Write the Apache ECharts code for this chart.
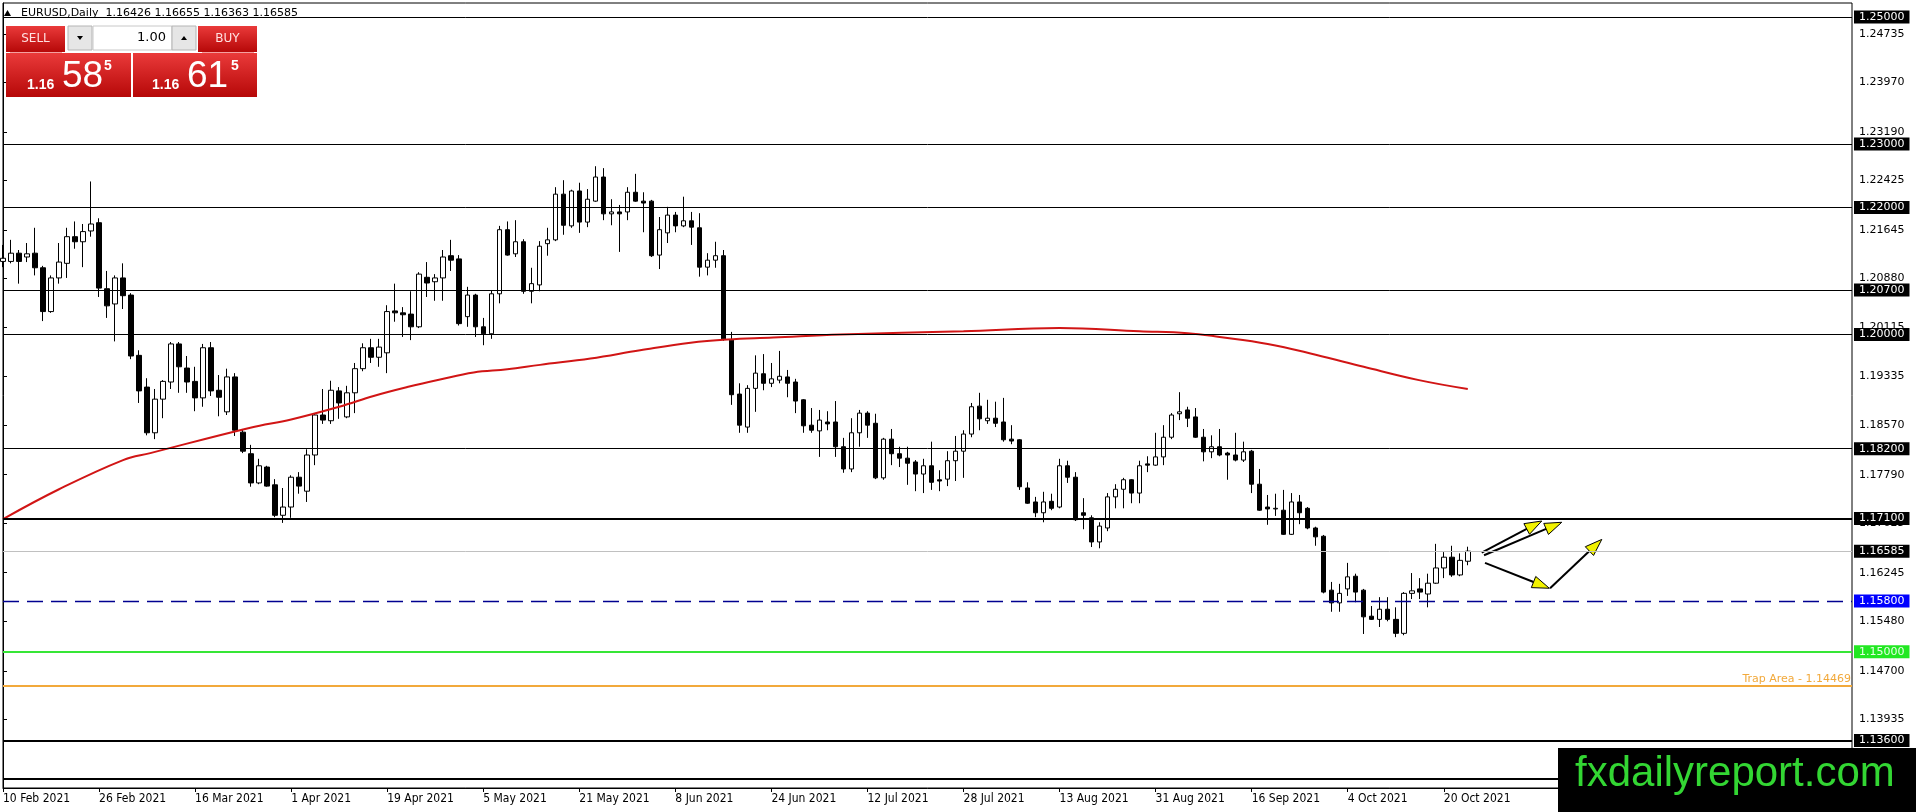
<!DOCTYPE html>
<html>
<head>
<meta charset="utf-8">
<title>EURUSD Daily</title>
<script src="https://cdn.jsdelivr.net/npm/echarts@6/dist/echarts.min.js"></script>
<style>
  html, body { margin: 0; padding: 0; background: #fff; }
  #chart { width: 1916px; height: 812px; }
</style>
</head>
<body>
<div id="chart"></div>
<script>
// daily bars, 10 Feb 2021 .. 25 Oct 2021
const opens = [
  1.2115, 1.2115, 1.2128, 1.2122, 1.2128, 1.2105, 1.2036, 1.2089, 1.2112, 1.2154,
  1.2146, 1.2163, 1.2176, 1.2072, 1.2048, 1.2089, 1.2062, 1.1967, 1.1917, 1.1845,
  1.1898, 1.1925, 1.1985, 1.1947, 1.1926, 1.1900, 1.1979, 1.1912, 1.1878, 1.1933,
  1.1846, 1.1812, 1.1766, 1.1791, 1.1763, 1.1715, 1.1728, 1.1775, 1.1753, 1.1810,
  1.1873, 1.1864, 1.1911, 1.1870, 1.1908, 1.1946, 1.1979, 1.1964, 1.1971, 1.2037,
  1.2034, 1.2032, 1.2012, 1.2090, 1.2083, 1.2089, 1.2124, 1.2119, 1.2028, 1.2062,
  1.2012, 1.2001, 1.2064, 1.2165, 1.2127, 1.2146, 1.2068, 1.2078, 1.2143, 1.2149,
  1.2221, 1.2171, 1.2226, 1.2177, 1.2210, 1.2248, 1.2190, 1.2193, 1.2193, 1.2224,
  1.2210, 1.2210, 1.2125, 1.2160, 1.2188, 1.2171, 1.2179, 1.2168, 1.2106, 1.2117,
  1.2124, 1.1991, 1.1906, 1.1854, 1.1915, 1.1938, 1.1923, 1.1928, 1.1933, 1.1925,
  1.1897, 1.1857, 1.1848, 1.1862, 1.1862, 1.1823, 1.1788, 1.1845, 1.1876, 1.1860,
  1.1774, 1.1835, 1.1812, 1.1805, 1.1799, 1.1780, 1.1793, 1.1771, 1.1772, 1.1801,
  1.1816, 1.1843, 1.1887, 1.1864, 1.1868, 1.1862, 1.1835, 1.1834, 1.1758, 1.1736,
  1.1719, 1.1737, 1.1728, 1.1793, 1.1775, 1.1719, 1.1711, 1.1673, 1.1695, 1.1744,
  1.1756, 1.1771, 1.1750, 1.1796, 1.1794, 1.1807, 1.1838, 1.1875, 1.1881, 1.1870,
  1.1838, 1.1815, 1.1823, 1.1813, 1.1810, 1.1802, 1.1816, 1.1764, 1.1728, 1.1725,
  1.1723, 1.1685, 1.1736, 1.1726, 1.1695, 1.1682, 1.1597, 1.1577, 1.1599, 1.1619,
  1.1597, 1.1556, 1.1551, 1.1567, 1.1551, 1.1529, 1.1592, 1.1599, 1.1591, 1.1608,
  1.1632, 1.1649, 1.1621, 1.16426
];
const highs = [
  1.2141, 1.2149, 1.2133, 1.2144, 1.2168, 1.2108, 1.2093, 1.2144, 1.2168, 1.2178,
  1.2174, 1.2241, 1.2183, 1.2100, 1.2093, 1.2112, 1.2065, 1.1975, 1.1931, 1.1914,
  1.1928, 1.1988, 1.1988, 1.1966, 1.1949, 1.1985, 1.1988, 1.1936, 1.1946, 1.1939,
  1.1851, 1.1826, 1.1804, 1.1793, 1.1772, 1.1758, 1.1778, 1.1783, 1.1819, 1.1876,
  1.1914, 1.1927, 1.1917, 1.1919, 1.1955, 1.1986, 1.1993, 1.1993, 1.2046, 1.2080,
  1.2043, 1.2068, 1.2098, 1.2114, 1.2095, 1.2133, 1.2149, 1.2125, 1.2075, 1.2064,
  1.2026, 1.2070, 1.2171, 1.2178, 1.2180, 1.2150, 1.2105, 1.2147, 1.2168, 1.2232,
  1.2243, 1.2228, 1.2239, 1.2229, 1.2265, 1.2262, 1.2213, 1.2204, 1.2232, 1.2253,
  1.2224, 1.2212, 1.2185, 1.2201, 1.2193, 1.2217, 1.2193, 1.2191, 1.2128, 1.2146,
  1.2133, 1.2004, 1.1923, 1.1920, 1.1967, 1.1969, 1.1955, 1.1974, 1.1944, 1.1930,
  1.1898, 1.1884, 1.1881, 1.1879, 1.1895, 1.1837, 1.1868, 1.1881, 1.1879, 1.1875,
  1.1837, 1.1851, 1.1823, 1.1823, 1.1802, 1.1804, 1.1831, 1.1786, 1.1816, 1.1840,
  1.1849, 1.1892, 1.1908, 1.1897, 1.1894, 1.1900, 1.1857, 1.1835, 1.1767, 1.1744,
  1.1752, 1.1749, 1.1804, 1.1801, 1.1783, 1.1742, 1.1715, 1.1704, 1.1750, 1.1764,
  1.1774, 1.1772, 1.1801, 1.1808, 1.1845, 1.1857, 1.1876, 1.1909, 1.1886, 1.1884,
  1.1851, 1.1841, 1.1851, 1.1815, 1.1845, 1.1831, 1.1818, 1.1788, 1.1747, 1.1749,
  1.1755, 1.1750, 1.1747, 1.1728, 1.1697, 1.1684, 1.1610, 1.1607, 1.1640, 1.1623,
  1.1599, 1.1572, 1.1586, 1.1586, 1.1570, 1.1594, 1.1624, 1.1616, 1.1623, 1.1670,
  1.1657, 1.1667, 1.1655, 1.16655
];
const lows = [
  1.2106, 1.2112, 1.2080, 1.2114, 1.2093, 1.2021, 1.2034, 1.2080, 1.2089, 1.2135,
  1.2106, 1.2154, 1.2059, 1.2026, 1.1989, 1.2040, 1.1961, 1.1892, 1.1841, 1.1835,
  1.1868, 1.1914, 1.1908, 1.1908, 1.1879, 1.1886, 1.1903, 1.1871, 1.1873, 1.1840,
  1.1813, 1.1760, 1.1764, 1.1760, 1.1712, 1.1703, 1.1711, 1.1749, 1.1736, 1.1794,
  1.1859, 1.1859, 1.1867, 1.1868, 1.1876, 1.1942, 1.1955, 1.1949, 1.1939, 1.2020,
  1.1996, 1.1991, 1.2010, 1.2059, 1.2053, 1.2053, 1.2100, 1.2014, 1.2012, 1.1996,
  1.1983, 1.1993, 1.2049, 1.2124, 1.2122, 1.2064, 1.2049, 1.2068, 1.2124, 1.2147,
  1.2157, 1.2168, 1.2160, 1.2169, 1.2209, 1.2180, 1.2172, 1.2130, 1.2180, 1.2209,
  1.2161, 1.2122, 1.2103, 1.2144, 1.2161, 1.2169, 1.2141, 1.2091, 1.2093, 1.2105,
  1.1990, 1.1889, 1.1845, 1.1845, 1.1878, 1.1912, 1.1917, 1.1923, 1.1901, 1.1876,
  1.1845, 1.1845, 1.1807, 1.1849, 1.1807, 1.1782, 1.1783, 1.1823, 1.1837, 1.1772,
  1.1771, 1.1794, 1.1791, 1.1763, 1.1753, 1.1750, 1.1755, 1.1753, 1.1761, 1.1769,
  1.1774, 1.1838, 1.1849, 1.1859, 1.1854, 1.1831, 1.1827, 1.1755, 1.1733, 1.1712,
  1.1704, 1.1723, 1.1726, 1.1766, 1.1706, 1.1693, 1.1665, 1.1663, 1.1690, 1.1726,
  1.1726, 1.1734, 1.1734, 1.1783, 1.1793, 1.1794, 1.1835, 1.1865, 1.1854, 1.1837,
  1.1800, 1.1805, 1.1808, 1.1771, 1.1800, 1.1799, 1.1750, 1.1722, 1.1700, 1.1714,
  1.1684, 1.1684, 1.1701, 1.1693, 1.1667, 1.1592, 1.1563, 1.1563, 1.1588, 1.1578,
  1.1528, 1.1550, 1.1539, 1.1548, 1.1523, 1.1526, 1.1583, 1.1583, 1.1570, 1.1607,
  1.1616, 1.1618, 1.1619, 1.16363
];
const closes = [
  1.2120, 1.2128, 1.2115, 1.2127, 1.2105, 1.2036, 1.2089, 1.2114, 1.2154, 1.2146,
  1.2162, 1.2174, 1.2073, 1.2045, 1.2089, 1.2061, 1.1966, 1.1911, 1.1845, 1.1898,
  1.1926, 1.1985, 1.1949, 1.1925, 1.1900, 1.1979, 1.1911, 1.1901, 1.1933, 1.1849,
  1.1816, 1.1766, 1.1793, 1.1761, 1.1715, 1.1728, 1.1775, 1.1761, 1.1810, 1.1873,
  1.1865, 1.1912, 1.1892, 1.1908, 1.1946, 1.1979, 1.1964, 1.1980, 1.2036, 1.2034,
  1.2031, 1.2012, 1.2095, 1.2081, 1.2089, 1.2122, 1.2117, 1.2017, 1.2062, 1.2012,
  1.2001, 1.2064, 1.2165, 1.2125, 1.2146, 1.2068, 1.2080, 1.2139, 1.2149, 1.2221,
  1.2172, 1.2226, 1.2177, 1.2213, 1.2248, 1.2190, 1.2193, 1.2190, 1.2224, 1.2210,
  1.2207, 1.2124, 1.2165, 1.2188, 1.2171, 1.2179, 1.2169, 1.2106, 1.2117, 1.2124,
  1.1993, 1.1905, 1.1857, 1.1915, 1.1939, 1.1923, 1.1930, 1.1934, 1.1923, 1.1895,
  1.1856, 1.1849, 1.1865, 1.1859, 1.1823, 1.1788, 1.1845, 1.1876, 1.1857, 1.1774,
  1.1835, 1.1812, 1.1805, 1.1797, 1.1780, 1.1793, 1.1767, 1.1769, 1.1801, 1.1816,
  1.1843, 1.1886, 1.1867, 1.1868, 1.1860, 1.1834, 1.1832, 1.1760, 1.1734, 1.1719,
  1.1736, 1.1726, 1.1793, 1.1775, 1.1708, 1.1715, 1.1673, 1.1698, 1.1744, 1.1756,
  1.1771, 1.1750, 1.1793, 1.1794, 1.1807, 1.1838, 1.1873, 1.1878, 1.1868, 1.1838,
  1.1815, 1.1823, 1.1810, 1.1810, 1.1802, 1.1815, 1.1764, 1.1723, 1.1725, 1.1726,
  1.1685, 1.1736, 1.1719, 1.1695, 1.1681, 1.1594, 1.1577, 1.1592, 1.1618, 1.1594,
  1.1555, 1.1551, 1.1567, 1.1551, 1.1529, 1.1592, 1.1596, 1.1594, 1.1608, 1.1632,
  1.1649, 1.1621, 1.1644, 1.16585
];

// red moving average, read at a few bar positions
const maBars   = [0, 7, 15, 18.4, 30.9, 36, 42, 46.3, 50.5, 54.6, 58.8, 63, 67.1, 73.4, 79.6,
                  85.9, 90.5, 96.2, 104.6, 120, 132, 142, 148, 152, 158, 164, 170, 176.9, 183];
const maValues = [1.1709, 1.1756, 1.1802, 1.1813, 1.1853, 1.1866, 1.1886, 1.1903, 1.1917, 1.1929,
                  1.1940, 1.1945, 1.1952, 1.1962, 1.1975, 1.1987, 1.1992, 1.1995, 1.2000, 1.2005,
                  1.2010, 1.2005, 1.2002, 1.1996, 1.1985, 1.1968, 1.1949, 1.1928, 1.1914];

// price scale labels on the right
const scalePrices = [1.24735, 1.23970, 1.23190, 1.22425, 1.21645, 1.20880, 1.20115, 1.19335,
                     1.18570, 1.17790, 1.17025, 1.16245, 1.15480, 1.14700, 1.13935];
// horizontal levels
const blackLevels = [1.25, 1.23, 1.22, 1.207, 1.20, 1.182];
const thickLevels = [1.171, 1.136, 1.13];
const bidPrice = 1.16585;
const blueLevel = 1.158;
const greenLevel = 1.15;
const trapLevel = 1.14469;

// hand drawn arrows: [bar, price] -> [bar, price]
const arrows = [
  [184.74, 1.1656, 192.24, 1.1706],
  [185.03, 1.1652, 194.74, 1.1704],
  [185.15, 1.1640, 193.19, 1.1600],
  [193.28, 1.1600, 199.74, 1.1677]
];

const monthNames = ['Jan','Feb','Mar','Apr','May','Jun','Jul','Aug','Sep','Oct','Nov','Dec'];
const TOTAL_SLOTS = 232;
const dates = [];
let day = new Date(Date.UTC(2021, 1, 10));
while (dates.length < TOTAL_SLOTS) {
  const wd = day.getUTCDay();
  if (wd !== 0 && wd !== 6) {
    dates.push(day.getUTCDate() + ' ' + monthNames[day.getUTCMonth()] + ' ' + day.getUTCFullYear());
  }
  day = new Date(day.getTime() + 86400000);
}

const candleData = opens.map((o, i) => [o, closes[i], lows[i], highs[i]]);
const showDate = (i) => i % 12 === 0 && i < opens.length;

const FONT = '"DejaVu Sans", Verdana, sans-serif';
const NARROW = '"DejaVu Sans Condensed", "Liberation Sans Narrow", sans-serif';
const ARIAL = '"Liberation Sans", Arial, sans-serif';

function boxLabel(bg, fg) {
  return {
    show: true, position: 'end', distance: 2,
    formatter: (p) => Number(p.value).toFixed(5),
    backgroundColor: bg, color: fg, fontSize: 11, fontFamily: FONT,
    lineHeight: 13, padding: [0, 5, 0, 5]
  };
}

const levelData = [];
blackLevels.forEach(v => levelData.push({ yAxis: v, lineStyle: { color: '#000', width: 1, type: 'solid' }, label: boxLabel('#000', '#fff') }));
thickLevels.forEach(v => levelData.push({ yAxis: v, lineStyle: { color: '#000', width: 2, type: 'solid' }, label: boxLabel('#000', '#fff') }));
levelData.push({ yAxis: bidPrice, lineStyle: { color: '#c0c0c0', width: 1, type: 'solid' }, label: boxLabel('#000', '#fff') });
levelData.push({ yAxis: blueLevel, lineStyle: { color: '#000090', width: 1.3, type: [16, 8] }, label: boxLabel('#0000ff', '#fff') });
levelData.push({ yAxis: greenLevel, lineStyle: { color: '#36e636', width: 2, type: 'solid' }, label: boxLabel('#22e822', '#e6ffe6') });
levelData.push({
  yAxis: trapLevel, lineStyle: { color: '#f2a93b', width: 2, type: 'solid' },
  label: { show: true, position: 'insideEndTop', distance: 1, formatter: 'Trap Area - ' + trapLevel.toFixed(5),
           color: '#f2a93b', fontSize: 11, fontFamily: FONT }
});

function renderArrow(params, api) {
  const a = api.coord([api.value(0), api.value(1)]);
  const b = api.coord([api.value(2), api.value(3)]);
  const dx = b[0] - a[0], dy = b[1] - a[1];
  const len = Math.sqrt(dx * dx + dy * dy);
  const ux = dx / len, uy = dy / len;
  const hl = 17, hw = 6;
  const bx = b[0] - ux * hl, by = b[1] - uy * hl;
  return {
    type: 'group',
    children: [
      { type: 'line', shape: { x1: a[0], y1: a[1], x2: bx, y2: by }, style: { stroke: '#000', lineWidth: 2 } },
      { type: 'polygon', shape: { points: [[b[0], b[1]], [bx - uy * hw, by + ux * hw], [bx + uy * hw, by - ux * hw]] },
        style: { fill: '#f2f200', stroke: '#000', lineWidth: 1 } }
    ]
  };
}

const redGrad = () => new echarts.graphic.LinearGradient(0, 0, 0, 1, [
  { offset: 0, color: '#ea3a3a' }, { offset: 1, color: '#b60808' }
]);

const chart = echarts.init(document.getElementById('chart'));
chart.setOption({
  animation: false,
  backgroundColor: '#fff',
  grid: { left: 3, top: 3, right: 64, bottom: 24, show: true, borderColor: '#000', borderWidth: 1, backgroundColor: '#fff' },
  xAxis: [
    {
      type: 'category', data: dates, boundaryGap: false,
      axisLine: { show: true, lineStyle: { color: '#000' } },
      axisTick: { show: true, interval: (i) => showDate(i), length: 4, lineStyle: { color: '#000' } },
      axisLabel: { interval: (i) => showDate(i), align: 'left', margin: 5, color: '#000', fontSize: 12, fontFamily: NARROW },
      splitLine: { show: false }
    },
    { type: 'value', min: 0, max: TOTAL_SLOTS - 1, show: false }
  ],
  yAxis: {
    type: 'value', position: 'right', min: 1.12853, max: 1.25222,
    axisLine: { show: true, lineStyle: { color: '#000' } },
    axisTick: { show: true, length: 4, customValues: scalePrices.concat(blackLevels, thickLevels, [bidPrice, blueLevel, greenLevel]), lineStyle: { color: '#000' } },
    axisLabel: { customValues: scalePrices, formatter: (v) => Number(v).toFixed(5), margin: 7, color: '#000', fontSize: 11, fontFamily: FONT },
    splitLine: { show: false }
  },
  series: [
    {
      name: 'levels', type: 'line', data: [], clip: false, silent: true,
      markLine: { symbol: ['none', 'none'], precision: 5, silent: true, animation: false, data: levelData }
    },
    {
      name: 'EURUSD', type: 'candlestick', data: candleData, barWidth: 5, silent: true,
      itemStyle: { color: '#fff', color0: '#000', borderColor: '#000', borderColor0: '#000', borderWidth: 1 }
    },
    {
      name: 'MA', type: 'line', xAxisIndex: 1, data: maBars.map((b, i) => [b, maValues[i]]),
      smooth: 0.4, symbol: 'none', silent: true, lineStyle: { color: '#d11515', width: 2 }, z: 3
    },
    {
      name: 'arrows', type: 'custom', xAxisIndex: 1, data: arrows, renderItem: renderArrow,
      encode: { x: [0, 2], y: [1, 3] }, clip: false, silent: true, z: 4
    }
  ],
  graphic: [
    // header
    { type: 'polygon', shape: { points: [[4, 16], [11, 16], [7.5, 10]] }, style: { fill: '#000' }, z: 50 },
    { type: 'text', x: 21, y: 13, style: { text: 'EURUSD,Daily  1.16426 1.16655 1.16363 1.16585', fill: '#000', fontSize: 11, fontFamily: FONT, verticalAlign: 'middle' }, z: 50 },
    // one-click trading panel
    { type: 'rect', shape: { x: 6, y: 26, width: 59, height: 26 }, style: { fill: redGrad() }, z: 50 },
    { type: 'text', x: 35.5, y: 39, style: { text: 'SELL', fill: '#ffe0e0', fontSize: 12, fontFamily: FONT, align: 'center', verticalAlign: 'middle' }, z: 51 },
    { type: 'rect', shape: { x: 68, y: 26, width: 24, height: 24 }, style: { fill: '#e6e6e6', stroke: '#b4b4b4' }, z: 50 },
    { type: 'polygon', shape: { points: [[77, 36], [83, 36], [80, 40]] }, style: { fill: '#000' }, z: 51 },
    { type: 'rect', shape: { x: 93, y: 26, width: 79, height: 24 }, style: { fill: '#fff', stroke: '#c8c8c8' }, z: 50 },
    { type: 'text', x: 166, y: 38, style: { text: '1.00', fill: '#000', fontSize: 13, fontFamily: FONT, align: 'right', verticalAlign: 'middle' }, z: 51 },
    { type: 'rect', shape: { x: 172, y: 26, width: 24, height: 24 }, style: { fill: '#e6e6e6', stroke: '#b4b4b4' }, z: 50 },
    { type: 'polygon', shape: { points: [[181, 40], [187, 40], [184, 36]] }, style: { fill: '#000' }, z: 51 },
    { type: 'rect', shape: { x: 198, y: 26, width: 59, height: 26 }, style: { fill: redGrad() }, z: 50 },
    { type: 'text', x: 227.5, y: 39, style: { text: 'BUY', fill: '#ffe0e0', fontSize: 12, fontFamily: FONT, align: 'center', verticalAlign: 'middle' }, z: 51 },
    { type: 'rect', shape: { x: 6, y: 53, width: 125, height: 44 }, style: { fill: redGrad() }, z: 50 },
    { type: 'line', shape: { x1: 10, y1: 52.5, x2: 62, y2: 52.5 }, style: { stroke: '#f4a0a0', lineWidth: 1 }, z: 51 },
    { type: 'text', x: 27, y: 92, style: { text: '1.16', fill: '#fff', fontSize: 14, fontWeight: 'bold', fontFamily: ARIAL, verticalAlign: 'bottom' }, z: 51 },
    { type: 'text', x: 62, y: 95, style: { text: '58', fill: '#fff', fontSize: 37, fontFamily: ARIAL, verticalAlign: 'bottom' }, z: 51 },
    { type: 'text', x: 104, y: 59, style: { text: '5', fill: '#fff', fontSize: 14, fontWeight: 'bold', fontFamily: ARIAL, verticalAlign: 'top' }, z: 51 },
    { type: 'rect', shape: { x: 133, y: 53, width: 124, height: 44 }, style: { fill: redGrad() }, z: 50 },
    { type: 'line', shape: { x1: 202, y1: 52.5, x2: 254, y2: 52.5 }, style: { stroke: '#f4a0a0', lineWidth: 1 }, z: 51 },
    { type: 'text', x: 152, y: 92, style: { text: '1.16', fill: '#fff', fontSize: 14, fontWeight: 'bold', fontFamily: ARIAL, verticalAlign: 'bottom' }, z: 51 },
    { type: 'text', x: 187, y: 95, style: { text: '61', fill: '#fff', fontSize: 37, fontFamily: ARIAL, verticalAlign: 'bottom' }, z: 51 },
    { type: 'text', x: 231, y: 59, style: { text: '5', fill: '#fff', fontSize: 14, fontWeight: 'bold', fontFamily: ARIAL, verticalAlign: 'top' }, z: 51 },
    // logo
    { type: 'rect', shape: { x: 1558, y: 748, width: 358, height: 64 }, style: { fill: '#000' }, z: 100 },
    { type: 'text', x: 1575, y: 774, style: { text: 'fxdailyreport.com', fill: '#33d633', fontSize: 42, fontFamily: ARIAL, verticalAlign: 'middle' }, z: 101 }
  ]
});
</script>
</body>
</html>
